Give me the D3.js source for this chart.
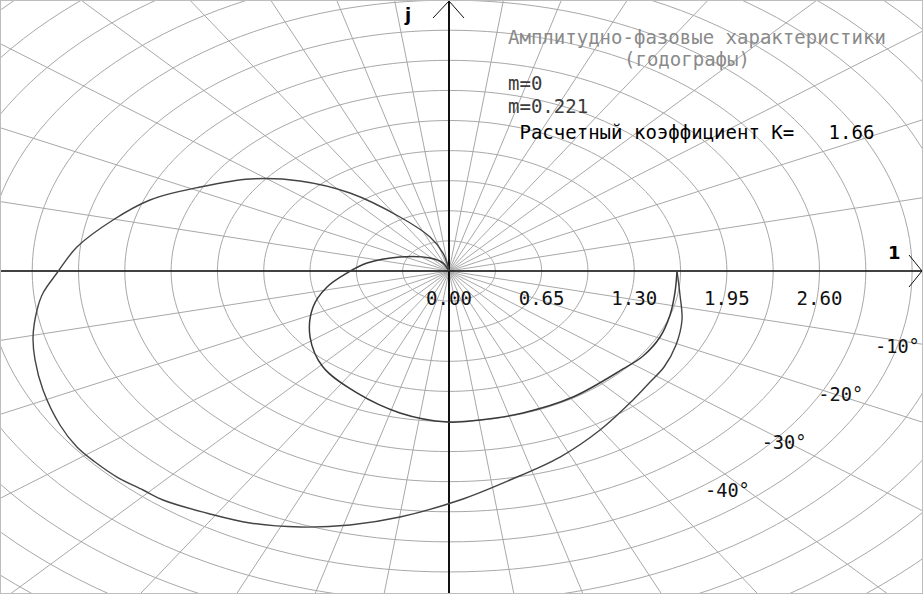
<!DOCTYPE html>
<html>
<head>
<meta charset="utf-8">
<script src="https://cdn.jsdelivr.net/npm/d3@7"></script>
<style>
  body { margin: 0; background: #fff; }
  svg { display: block; }
  .txt { font-family: "DejaVu Sans Mono", monospace; font-size: 20px; white-space: pre; }
</style>
</head>
<body>
<script>
// ---- data (Re, Im) ----
var curveM0 = [
  [1.600, 0.000], [1.586, -0.227], [1.551, -0.475], [1.481, -0.713], [1.362, -0.918],
  [1.221, -1.058], [0.870, -1.361], [0.519, -1.533], [0.218, -1.609], [-0.014, -1.631],
  [-0.344, -1.533], [-0.646, -1.317], [-0.884, -1.037], [-0.975, -0.713], [-0.954, -0.389],
  [-0.856, -0.173], [-0.716, -0.022], [-0.575, 0.086], [-0.344, 0.151], [-0.133, 0.140],
  [-0.042, 0.086], [0.000, 0.000]
];
var curveM221 = [
  [1.600, 0.000], [1.621, -0.259], [1.635, -0.529], [1.593, -0.799], [1.509, -1.037],
  [1.411, -1.199], [1.291, -1.393], [1.060, -1.717], [0.779, -2.009], [0.428, -2.257],
  [0.077, -2.473], [-0.344, -2.657], [-0.695, -2.743], [-1.046, -2.765], [-1.396, -2.721],
  [-1.677, -2.624], [-2.007, -2.473], [-2.147, -2.365], [-2.330, -2.225], [-2.484, -2.063],
  [-2.611, -1.901], [-2.730, -1.663], [-2.849, -1.285], [-2.905, -0.961], [-2.919, -0.713],
  [-2.891, -0.421], [-2.849, -0.238], [-2.751, -0.022], [-2.611, 0.259], [-2.358, 0.551],
  [-2.098, 0.767], [-1.747, 0.907], [-1.396, 0.994], [-1.046, 0.972], [-0.695, 0.842],
  [-0.344, 0.583], [-0.133, 0.367], [-0.042, 0.194], [-0.014, 0.086], [0.000, 0.000]
];
var xTicks = [0, 0.65, 1.30, 1.95, 2.60];
var gridStep = 0.325;
var gridCount = 16;
var phaseLabels = [-10, -20, -30, -40];
var titleLines = ["Амплитудно-фазовые характеристики", "(годографы)"];
var legendLines = ["m=0", "m=0.221"];
var coefText = " Расчетный коэффициент K=   1.66";

var width = 923, height = 594;
var ox = 449, oy = 271;
var pxPerUnitX = 142.5, pxPerUnitY = 92.6;
// the old program drew its rays with a different aspect than its circles
var rayAspect = 1.35;

var svg = d3.select("body").append("svg")
    .attr("width", width)
    .attr("height", height);

var x = d3.scaleLinear()
    .domain([-ox / pxPerUnitX, (width - ox) / pxPerUnitX])
    .range([0, width]);
var y = d3.scaleLinear()
    .domain([oy / pxPerUnitY, -(height - oy) / pxPerUnitY])
    .range([0, height]);

var line = d3.line().x(d => x(d[0])).y(d => y(d[1]));
var smooth = d3.line().x(d => x(d[0])).y(d => y(d[1])).curve(d3.curveCatmullRom.alpha(0.5));

// grid: circles of constant amplitude
var grid = svg.append("g").attr("fill", "none").attr("stroke", "#a8a8a8").attr("stroke-width", 1);
d3.range(1, gridCount + 1).forEach(function (k) {
  var r = k * gridStep;
  var pts = d3.range(0, 361, 2).map(a => [r * Math.cos(a * Math.PI / 180), r * Math.sin(a * Math.PI / 180)]);
  grid.append("path").attr("d", line(pts));
});
// grid: rays of constant phase every 10 degrees
d3.range(0, 360, 10).forEach(function (a) {
  var R = gridCount * gridStep;
  grid.append("path")
      .attr("d", line([[0, 0], [R * Math.cos(a * Math.PI / 180), rayAspect * R * Math.sin(a * Math.PI / 180)]]));
});

// axes
var axes = svg.append("g").attr("stroke", "#111").attr("fill", "none");
axes.append("line").attr("x1", 0).attr("x2", width).attr("y1", y(0)).attr("y2", y(0)).attr("stroke-width", 1.5);
axes.append("line").attr("x1", x(0)).attr("x2", x(0)).attr("y1", 0).attr("y2", height).attr("stroke-width", 2);
axes.append("path").attr("d", `M${width - 14},${y(0) - 16}L${width - 1},${y(0)}L${width - 14},${y(0) + 16}`);
axes.append("path").attr("d", `M${x(0) - 16},18L${x(0)},1L${x(0) + 15},18`);

svg.append("text").attr("x", 888).attr("y", 259)
    .style("font-family", "DejaVu Sans").style("font-weight", "bold").style("font-size", "18px")
    .text("1");
svg.append("text").attr("x", 405).attr("y", 21)
    .style("font-family", "DejaVu Sans").style("font-weight", "bold").style("font-size", "18px")
    .text("j");

// curves
svg.append("path").attr("d", smooth(curveM0))
    .attr("fill", "none").attr("stroke", "#3a3a3a").attr("stroke-width", 1.5);
svg.append("path").attr("d", smooth(curveM221))
    .attr("fill", "none").attr("stroke", "#444").attr("stroke-width", 1.4);

// tick labels on the real axis
var charW = 11.45;
svg.selectAll(".tick").data(xTicks).enter().append("text")
    .attr("class", "txt tick")
    .attr("x", d => x(d) - 2 * charW)
    .attr("y", 305)
    .attr("textLength", 4 * charW)
    .attr("lengthAdjust", "spacingAndGlyphs")
    .attr("fill", "#111")
    .text(d => d3.format(".2f")(d));

// phase labels
var lx = d3.scaleLinear().domain([-10, -40]).range([875, 705]);
var ly = d3.scaleLinear().domain([-10, -40]).range([353, 497]);
svg.selectAll(".ph").data(phaseLabels).enter().append("text")
    .attr("class", "txt ph")
    .attr("x", d => lx(d))
    .attr("y", d => ly(d))
    .attr("textLength", 4 * 11.2)
    .attr("lengthAdjust", "spacingAndGlyphs")
    .attr("fill", "#111")
    .text(d => d + "°");

// title and legend
function addText(str, tx, ty, color) {
  svg.append("text").attr("class", "txt")
      .attr("xml:space", "preserve")
      .attr("x", tx).attr("y", ty)
      .attr("textLength", str.length * charW)
      .attr("lengthAdjust", "spacingAndGlyphs")
      .attr("fill", color)
      .text(str);
}
addText(titleLines[0], 508, 44, "#8a8a8a");
addText(titleLines[1], 624, 66, "#8a8a8a");
addText(legendLines[0], 508, 90, "#3c3c3c");
addText(legendLines[1], 508, 113, "#3c3c3c");
addText(coefText, 508, 139, "#000");

// frame
svg.append("rect").attr("x", 0.5).attr("y", 0.5).attr("width", width - 1).attr("height", height - 1)
    .attr("fill", "none").attr("stroke", "#bdbdbd");
</script>
</body>
</html>
